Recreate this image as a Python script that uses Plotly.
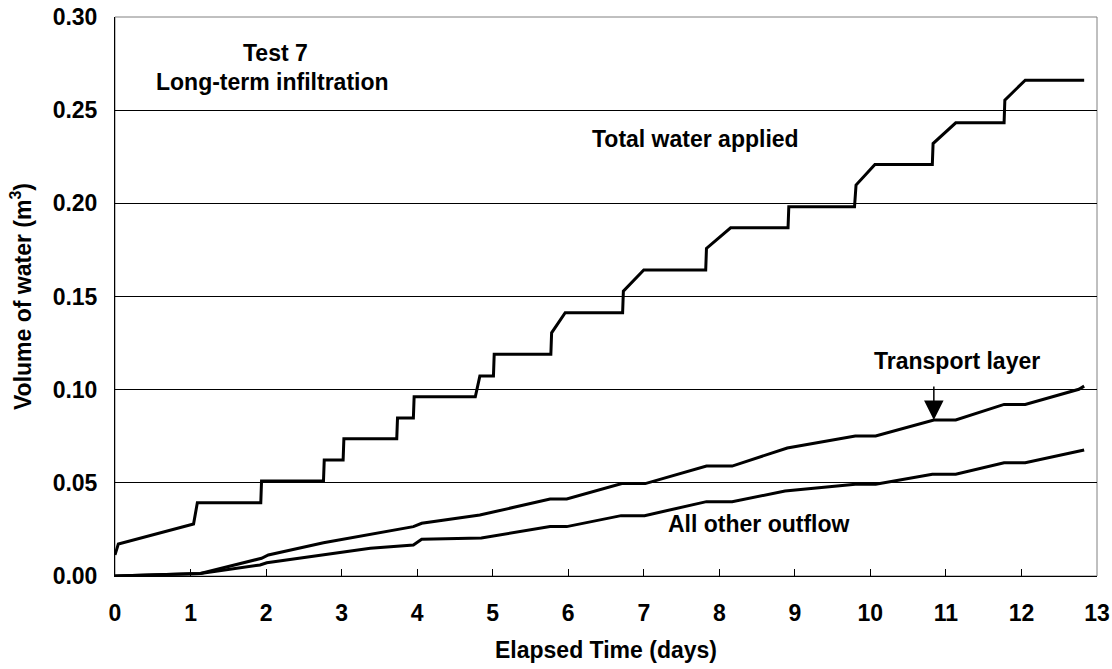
import plotly.graph_objects as go

# Total water applied
total_days = [0, 0.044, 1.04, 1.09, 1.93, 1.94, 2.76, 2.77, 3.02, 3.03, 3.73, 3.74, 3.95, 3.96,
              4.77, 4.83, 5.01, 5.02, 5.77, 5.78, 5.96, 6.72, 6.73, 7.0, 7.82, 7.83, 8.15, 8.91,
              8.92, 9.79, 9.81, 10.06, 10.82, 10.83, 11.13, 11.77, 11.78, 12.05, 12.83]
total_vol = [0.0113, 0.0172, 0.0279, 0.0393, 0.0393, 0.0510, 0.0510, 0.0622, 0.0622, 0.0737,
             0.0737, 0.0848, 0.0848, 0.0962, 0.0962, 0.1073, 0.1073, 0.1190, 0.1190, 0.1305,
             0.1413, 0.1413, 0.1529, 0.1642, 0.1642, 0.1758, 0.1869, 0.1869, 0.1981, 0.1981,
             0.2098, 0.2209, 0.2209, 0.2321, 0.2432, 0.2432, 0.2554, 0.2661, 0.2661]

# Transport layer
trans_days = [0, 1.13, 1.94, 2.03, 2.76, 3.95, 4.06, 4.83, 5.76, 5.98, 6.71, 7.02, 7.83, 8.17,
              8.9, 9.8, 10.07, 10.84, 11.13, 11.77, 12.05, 12.76, 12.83]
trans_vol = [0, 0.0014, 0.0095, 0.0113, 0.0178, 0.0265, 0.0283, 0.0327, 0.0413, 0.0413, 0.0496,
             0.0496, 0.0590, 0.0590, 0.0687, 0.0751, 0.0751, 0.0837, 0.0837, 0.0921, 0.0921,
             0.1002, 0.1019]

# All other outflow
other_days = [0, 1.13, 1.92, 2.01, 3.38, 3.95, 4.06, 4.85, 5.76, 5.98, 6.70, 7.01, 7.83, 8.17,
              8.87, 9.8, 10.07, 10.82, 11.13, 11.77, 12.05, 12.83]
other_vol = [0, 0.0014, 0.0059, 0.0071, 0.0149, 0.0166, 0.0197, 0.0204, 0.0265, 0.0265, 0.0324,
             0.0324, 0.0399, 0.0399, 0.0456, 0.0492, 0.0492, 0.0546, 0.0546, 0.0608, 0.0608,
             0.0676]

x_ticks = list(range(0, 14))
y_ticks = [0.00, 0.05, 0.10, 0.15, 0.20, 0.25, 0.30]

FONT = "Arial, Liberation Sans, sans-serif"
FS = 23

fig = go.Figure()
line = dict(color="black", width=3)
for xs, ys, nm in [(total_days, total_vol, "Total water applied"),
                   (trans_days, trans_vol, "Transport layer"),
                   (other_days, other_vol, "All other outflow")]:
    fig.add_trace(go.Scatter(x=xs, y=ys, mode="lines", line=line, name=nm,
                             showlegend=False, hoverinfo="skip"))

def txt(x, y, s):
    fig.add_annotation(x=x, y=y, text="<b>%s</b>" % s, showarrow=False,
                       xref="x", yref="y", xanchor="center", yanchor="middle",
                       font=dict(family=FONT, size=FS, color="black"))

txt(2.12, 0.2806, "Test 7")
txt(2.08, 0.2650, "Long-term infiltration")
txt(7.68, 0.2344, "Total water applied")
txt(11.15, 0.1153, "Transport layer")
txt(8.52, 0.0279, "All other outflow")

fig.add_annotation(x=10.84, y=0.0837, ax=10.84, ay=0.1025, xref="x", yref="y",
                   axref="x", ayref="y", text="", showarrow=True,
                   arrowhead=2, arrowsize=2.6, arrowwidth=1.5, arrowcolor="black",
                   standoff=0)

fig.add_shape(type="rect", xref="paper", yref="paper", x0=0, y0=0, x1=1, y1=1,
              line=dict(color="#808080", width=1), layer="below")

fig.update_layout(
    width=1112, height=669,
    margin=dict(l=115, r=15, t=17, b=93),
    paper_bgcolor="white", plot_bgcolor="white",
    font=dict(family=FONT, size=FS, color="black"),
)
fig.update_xaxes(
    range=[0, 13], tickvals=x_ticks, ticktext=["<b>%d</b>" % t for t in x_ticks],
    ticks="inside", ticklen=7, tickcolor="black", tickwidth=1,
    showline=True, linecolor="black", linewidth=1, automargin=False,
    showgrid=False, zeroline=False, ticklabelstandoff=16,
    title=dict(text="<b>Elapsed Time (days)</b>", standoff=17,
               font=dict(family=FONT, size=FS)),
)
fig.update_yaxes(
    range=[0, 0.30], tickvals=y_ticks, ticktext=["<b>%.2f</b>" % t for t in y_ticks],
    ticks="", showline=True, linecolor="black", linewidth=1, automargin=False,
    showgrid=True, gridcolor="black", gridwidth=1, zeroline=False,
    ticklabelstandoff=12,
    title=dict(text="<b>Volume of water (m<sup>3</sup>)</b>", standoff=14,
               font=dict(family=FONT, size=FS)),
)

fig.write_html("out.html")
